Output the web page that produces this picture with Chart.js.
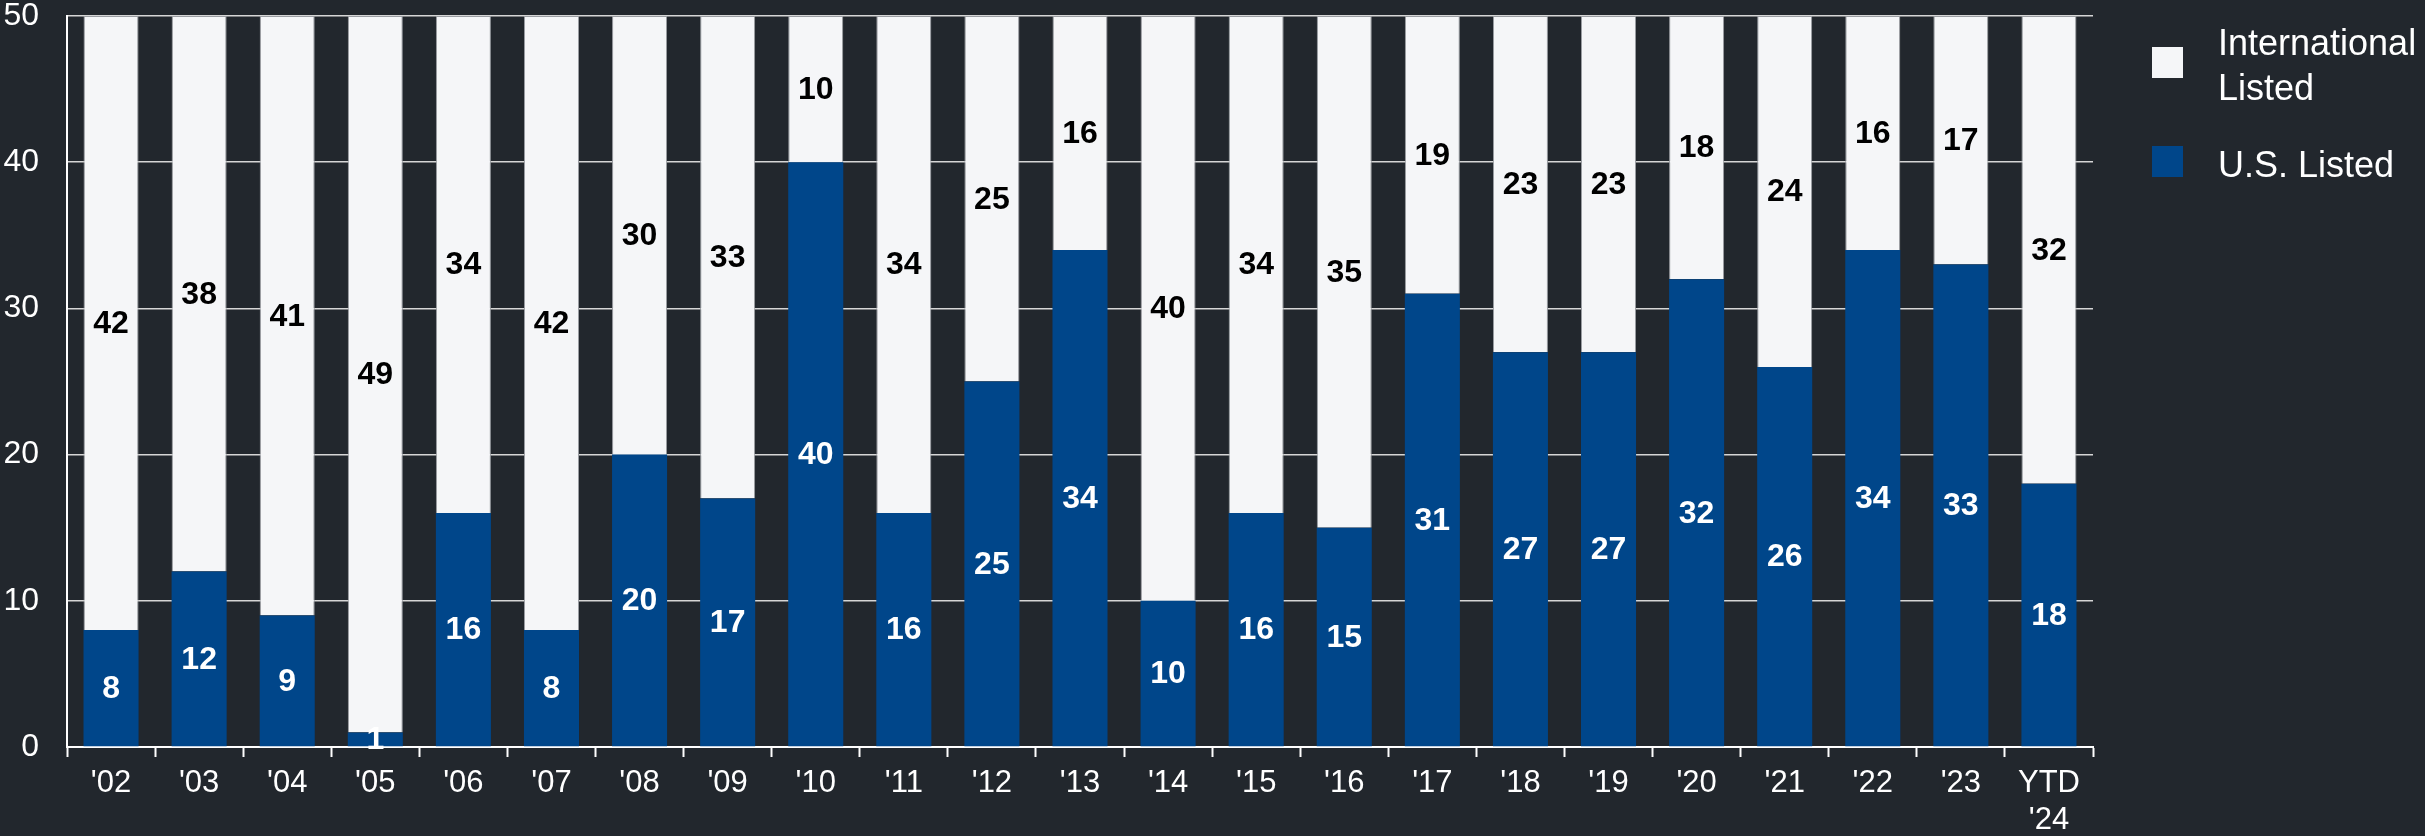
<!DOCTYPE html>
<html>
<head>
<meta charset="utf-8">
<script src="https://cdn.jsdelivr.net/npm/chart.js@4.4.1/dist/chart.umd.min.js"></script>
<style>
  html, body { margin: 0; padding: 0; background: #22272d; overflow: hidden; }
  #wrap { position: relative; width: 2425px; height: 836px; }
  #legend { position: absolute; left: 0; top: 0; font-family: "Liberation Sans", Arial, sans-serif; color: #ffffff; font-size: 36px; line-height: 45px; }
  .item { position: absolute; white-space: nowrap; }
  .sw { position: absolute; width: 31px; height: 31px; }
</style>
</head>
<body>
<div id="wrap">
  <canvas id="c" width="2425" height="836"></canvas>
  <div id="legend">
    <div class="sw" style="left:2152px; top:47px; background:#f5f6f8;"></div>
    <div class="item" style="left:2218px; top:20px;">International<br>Listed</div>
    <div class="sw" style="left:2152px; top:146px; background:#00468a;"></div>
    <div class="item" style="left:2218px; top:142px;">U.S. Listed</div>
  </div>
</div>
<script>
const categories = ["'02","'03","'04","'05","'06","'07","'08","'09","'10","'11","'12","'13","'14","'15","'16","'17","'18","'19","'20","'21","'22","'23",["YTD","'24"]];
const usListed = [8,12,9,1,16,8,20,17,40,16,25,34,10,16,15,31,27,27,32,26,34,33,18];
const intlListed = [42,38,41,49,34,42,30,33,10,34,25,16,40,34,35,19,23,23,18,24,16,17,32];
const yTicks = [0,10,20,30,40,50];

const FONT = '"Liberation Sans", Arial, sans-serif';

const labelPlugin = {
  id: 'barLabels',
  afterDatasetsDraw(chart) {
    const ctx = chart.ctx;
    ctx.save();
    ctx.font = 'bold 32px ' + FONT;
    ctx.textAlign = 'center';
    ctx.textBaseline = 'middle';
    chart.data.datasets.forEach((ds, di) => {
      const meta = chart.getDatasetMeta(di);
      ctx.fillStyle = di === 0 ? '#ffffff' : '#000000';
      meta.data.forEach((bar, i) => {
        const v = ds.data[i];
        const y = (bar.y + bar.base) / 2;
        ctx.fillText(String(v), bar.x, y + 1);
      });
    });
    ctx.restore();
  }
};

new Chart(document.getElementById('c'), {
  type: 'bar',
  data: {
    labels: categories,
    datasets: [
      { label: 'U.S. Listed', data: usListed, backgroundColor: '#00468a', borderWidth: 0, categoryPercentage: 1, barPercentage: 0.625 },
      { label: 'International Listed', data: intlListed, backgroundColor: '#f5f6f8', borderColor: '#9a9da2', borderWidth: 1, categoryPercentage: 1, barPercentage: 0.625 }
    ]
  },
  options: {
    responsive: false,
    animation: false,
    devicePixelRatio: 1,
    layout: { padding: { top: 16, right: 332, left: 0, bottom: 0 } },
    plugins: { legend: { display: false }, tooltip: { enabled: false } },
    scales: {
      x: {
        stacked: true,
        grid: { display: true, drawOnChartArea: false, drawTicks: true, tickLength: 10, tickWidth: 2, color: '#ffffff', offset: true },
        border: { display: true, color: '#ffffff', width: 2 },
        ticks: { color: '#ffffff', font: { family: FONT, size: 31, lineHeight: 1.2 }, padding: 8, maxRotation: 0, autoSkip: false },
        afterFit(s) { s.height = 89; s.paddingLeft = 0; s.paddingRight = 0; }
      },
      y: {
        stacked: true,
        min: 0, max: 50,
        afterBuildTicks(s) { s.ticks = yTicks.map(v => ({ value: v })); },
        grid: { color: '#d6d6d6', lineWidth: 1.5, drawTicks: false },
        border: { display: true, color: '#ffffff', width: 2 },
        ticks: { color: '#ffffff', font: { family: FONT, size: 32 }, padding: 28 },
        afterFit(s) { s.width = 67; s.paddingTop = 0; s.paddingBottom = 0; }
      }
    }
  },
  plugins: [labelPlugin]
});
</script>
</body>
</html>
